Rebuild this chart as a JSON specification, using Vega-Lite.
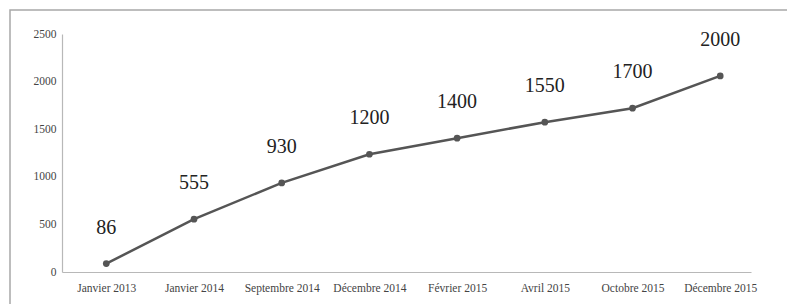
{
  "$schema": "https://vega.github.io/schema/vega-lite/v6.json",
  "autosize": "none",
  "padding": {"left": 10, "top": 10, "right": 0, "bottom": 0},
  "width": 790,
  "height": 300,
  "background": "white",
  "config": {
    "view": {"stroke": "#a8a8a8", "strokeWidth": 1.5},
    "font": "Liberation Serif"
  },
  "data": {
    "values": [
      {"date": "Janvier 2013", "value": 88, "label": "86"},
      {"date": "Janvier 2014", "value": 555, "label": "555"},
      {"date": "Septembre 2014", "value": 936, "label": "930"},
      {"date": "Décembre 2014", "value": 1237, "label": "1200"},
      {"date": "Février 2015", "value": 1406, "label": "1400"},
      {"date": "Avril 2015", "value": 1574, "label": "1550"},
      {"date": "Octobre 2015", "value": 1721, "label": "1700"},
      {"date": "Décembre 2015", "value": 2060, "label": "2000"}
    ]
  },
  "encoding": {
    "x": {
      "field": "date",
      "type": "ordinal",
      "sort": null,
      "scale": {"type": "point", "range": [52, 741], "padding": 0.428, "align": 0.59},
      "axis": {
        "title": null,
        "orient": "bottom",
        "offset": -38,
        "labelAngle": 0,
        "ticks": false,
        "grid": false,
        "domainColor": "#b8b8b8",
        "domainWidth": 1.2,
        "labelFont": "Liberation Serif",
        "labelFontSize": 11.5,
        "labelColor": "#444444",
        "labelPadding": 10
      }
    },
    "y": {
      "field": "value",
      "type": "quantitative",
      "scale": {"domain": [0, 2500], "range": [262, 24], "nice": false},
      "axis": {
        "title": null,
        "orient": "left",
        "offset": -52,
        "values": [0, 500, 1000, 1500, 2000, 2500],
        "format": "d",
        "ticks": false,
        "grid": false,
        "domainColor": "#b8b8b8",
        "domainWidth": 1.2,
        "labelFont": "Liberation Serif",
        "labelFontSize": 11.5,
        "labelColor": "#444444",
        "labelPadding": 6
      }
    }
  },
  "layer": [
    {"mark": {"type": "line", "color": "#555555", "strokeWidth": 2.5}},
    {"mark": {"type": "point", "filled": true, "color": "#555555", "size": 45, "opacity": 1}},
    {
      "mark": {"type": "text", "dy": -36, "baseline": "middle", "align": "center", "font": "Liberation Serif", "fontSize": 20, "color": "#222222"},
      "encoding": {"text": {"field": "label"}}
    }
  ]
}
